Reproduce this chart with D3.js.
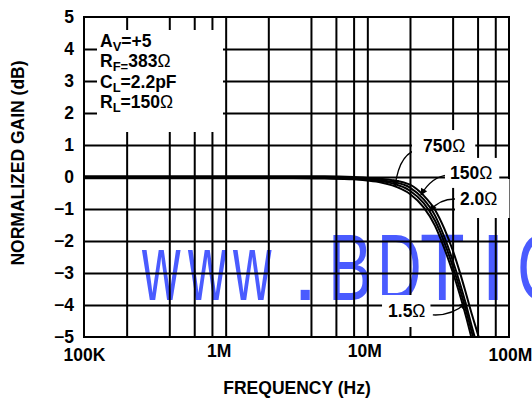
<!DOCTYPE html>
<html><head><meta charset="utf-8">
<script src="https://cdn.jsdelivr.net/npm/d3@7"></script>
<style>
body{margin:0;background:#fff}
svg{display:block}
text{font-family:"Liberation Sans",Arial,Helvetica,sans-serif}
</style>
</head><body>
<svg id="c" width="532" height="400"></svg>
<script>
// ---- data ----
const freqs   = [1e5, 1e6, 3e6, 5e6, 8e6, 10e6, 12.5e6, 15e6, 20e6, 25e6, 30e6, 35e6, 40e6, 45e6, 50e6, 55e6, 60e6, 65e6];
const gain750 = [0.02, 0.02, 0.02, 0.02, 0.0, -0.03, -0.06, -0.10, -0.24, -0.58, -1.02, -1.62, -2.28, -2.98, -3.68, -4.33, -4.88, -5.40];
const gain150 = [0, 0, 0, -0.01, -0.03, -0.06, -0.10, -0.15, -0.33, -0.70, -1.20, -1.88, -2.60, -3.32, -4.02, -4.72, -5.32, -5.90];
const gain2p0 = [-0.02, -0.02, -0.02, -0.03, -0.05, -0.08, -0.13, -0.20, -0.43, -0.82, -1.36, -2.05, -2.78, -3.50, -4.20, -4.90, -5.50, -6.00];
const gain1p5 = [-0.04, -0.04, -0.04, -0.05, -0.07, -0.11, -0.17, -0.26, -0.53, -0.95, -1.52, -2.24, -2.96, -3.68, -4.40, -5.12, -5.75, -6.30];
const yTicks = [5, 4, 3, 2, 1, 0, -1, -2, -3, -4, -5];
const xTickValues = [1e5, 1e6, 1e7, 1e8];
const xTickLabels = ["100K", "1M", "10M", "100M"];
const gridFreqs = [2e5, 4e5, 6e5, 8e5, 1e6, 2e6, 4e6, 6e6, 8e6, 1e7, 2e7, 4e7, 6e7, 8e7];
const gridGains = [4, 3, 2, 1, 0, -1, -2, -3, -4];
const legendLines = [["A", "V", "=+5"], ["R", "F=", "383Ω"], ["C", "L", "=2.2pF"], ["R", "L", "=150Ω"]];
const seriesNames = ["750Ω", "150Ω", "2.0Ω", "1.5Ω"];
// label anchor [freq, dB], arrow start / control / end [freq, dB]
const labelPos  = [[24.7e6, 0.78], [38.3e6, -0.06], [45.1e6, -0.875], [14.0e6, -4.375]];
const arrowFrom = [[23.9e6, 0.86], [37.1e6, 0.06], [42.9e6, -0.69], [29.0e6, -4.31]];
const arrowCtl  = [[17.0e6, 0.84], [28.6e6, 0.03], [32.6e6, -0.66], [39.6e6, -4.34]];
const arrowTo   = [[15.7e6, -0.28], [23.9e6, -0.56], [27.7e6, -1.06], [49.7e6, -3.94]];
const watermark = "www.BDTIC";

// ---- layout ----
const L = 84, R = 509, T = 17, B = 337;
const svg = d3.select("#c");
const x = d3.scaleLog().domain([1e5, 1e8]).range([L, R]);
const y = d3.scaleLinear().domain([-5, 5]).range([B, T]);

// watermark (under the grid), condensed glyphs
const wmX  = [142, 188, 233, 292, 328, 377, 420, 480, 517];
const wmSx = [0.56, 0.56, 0.56, 1.0, 0.7, 0.65, 0.77, 1.0, 0.7];
const wmG = svg.append("g");
watermark.split("").forEach((ch, i) => {
  wmG.append("text")
    .attr("transform", `translate(${wmX[i]},300) scale(${wmSx[i]},1)`)
    .attr("font-size", 95).attr("fill", "#4a5bff").text(ch);
});

// grid via axes
const gx = svg.append("g").attr("transform", `translate(0,${B})`)
  .call(d3.axisBottom(x).tickValues(gridFreqs).tickSize(-(B - T)).tickFormat(""));
gx.select(".domain").remove();
gx.selectAll("line").attr("stroke", "#000").attr("stroke-width", 2);
const gy = svg.append("g").attr("transform", `translate(${L},0)`)
  .call(d3.axisLeft(y).tickValues(gridGains).tickSize(-(R - L)).tickFormat(""));
gy.select(".domain").remove();
gy.selectAll("line").attr("stroke", "#000").attr("stroke-width", 2);

// legend box (white, covers grid)
svg.append("rect").attr("x", 97).attr("y", 30).attr("width", 126).attr("height", 102).attr("fill", "#fff");

// curve label white boxes + text
const labelG = svg.append("g");
const pads = [[11, 10, 6, 5], [5, 7, 5, 5], [5, 12, 10, 9], [6, 5, 6, 6]];
const lblTexts = seriesNames.map((n, i) => {
  const t = labelG.append("text")
    .attr("x", x(labelPos[i][0])).attr("y", y(labelPos[i][1]))
    .attr("font-size", 17.5).attr("font-weight", "bold");
  t.append("tspan").text(n.replace("Ω", ""));
  t.append("tspan").attr("font-weight", "normal").text("Ω");
  return t;
});
lblTexts.forEach((t, i) => {
  const bb = t.node().getBBox();
  const p = pads[i];
  labelG.insert("rect", "text")
    .attr("x", bb.x - p[0]).attr("y", bb.y - p[2])
    .attr("width", bb.width + p[0] + p[1]).attr("height", bb.height + p[2] + p[3])
    .attr("fill", "#fff");
});

// curves
svg.append("clipPath").attr("id", "clip").append("rect")
  .attr("x", L).attr("y", T).attr("width", R - L).attr("height", B - T);
const series = [gain750, gain150, gain2p0, gain1p5];
const line = d3.line().x(d => x(d[0])).y(d => y(d[1])).curve(d3.curveMonotoneX);
svg.append("g").attr("clip-path", "url(#clip)")
  .selectAll("path").data(series).join("path")
  .attr("d", s => line(freqs.map((f, i) => [f, s[i]])))
  .attr("fill", "none").attr("stroke", "#000").attr("stroke-width", 2);

// frame
svg.append("rect").attr("x", L).attr("y", T).attr("width", R - L).attr("height", B - T)
  .attr("fill", "none").attr("stroke", "#000").attr("stroke-width", 2);

// arrows
svg.append("defs").append("marker").attr("id", "ah")
  .attr("viewBox", "0 0 10 10").attr("refX", 9).attr("refY", 5)
  .attr("markerWidth", 9).attr("markerHeight", 7).attr("markerUnits", "userSpaceOnUse")
  .attr("orient", "auto")
  .append("path").attr("d", "M0,0L10,5L0,10z").attr("fill", "#000");
seriesNames.forEach((n, i) => {
  const p = d3.path();
  p.moveTo(x(arrowFrom[i][0]), y(arrowFrom[i][1]));
  p.quadraticCurveTo(x(arrowCtl[i][0]), y(arrowCtl[i][1]), x(arrowTo[i][0]), y(arrowTo[i][1]));
  svg.append("path").attr("d", p.toString()).attr("fill", "none")
    .attr("stroke", "#000").attr("stroke-width", 1.3).attr("marker-end", "url(#ah)");
});
labelG.raise();

// legend text
const lg = svg.append("g").attr("font-size", 17.5).attr("font-weight", "bold");
legendLines.forEach((ln, i) => {
  const t = lg.append("text").attr("x", 100).attr("y", 47 + i * 20.4);
  t.append("tspan").text(ln[0]);
  t.append("tspan").attr("font-size", 13).attr("dy", 4).text(ln[1]);
  const parts = ln[2].split("Ω");
  t.append("tspan").attr("dy", -4).text(parts[0]);
  if (ln[2].includes("Ω")) t.append("tspan").attr("font-weight", "normal").text("Ω");
});

// y axis labels
const ya = svg.append("g").attr("transform", `translate(${L},0)`)
  .call(d3.axisLeft(y).tickValues(yTicks).tickSize(0).tickPadding(10).tickFormat(d3.format("d")));
ya.select(".domain").remove();
ya.selectAll("text").attr("font-size", 17.5).attr("font-weight", "bold")
  .attr("font-family", "Liberation Sans, Arial, sans-serif").attr("fill", "#000").attr("dy", "0.3em");

// x axis labels
const xOff = [0, -7, -3, 1];
const yOff = [4, 0, 0, 4];
const xa = svg.append("g").attr("transform", `translate(0,${B})`)
  .call(d3.axisBottom(x).tickValues(xTickValues).tickSize(0).tickPadding(8).tickFormat((d, i) => xTickLabels[i]));
xa.select(".domain").remove();
xa.selectAll("text").attr("font-size", 17.5).attr("font-weight", "bold")
  .attr("font-family", "Liberation Sans, Arial, sans-serif").attr("fill", "#000")
  .attr("dx", (d, i) => xOff[i]).attr("y", (d, i) => 8 + yOff[i]);

// axis titles
svg.append("text").attr("x", 297).attr("y", 394).attr("text-anchor", "middle")
  .attr("font-size", 17.5).attr("font-weight", "bold").text("FREQUENCY (Hz)");
svg.append("text").attr("transform", "translate(24,163) rotate(-90)").attr("text-anchor", "middle")
  .attr("font-size", 17.5).attr("font-weight", "bold").text("NORMALIZED GAIN (dB)");
</script>
</body></html>
